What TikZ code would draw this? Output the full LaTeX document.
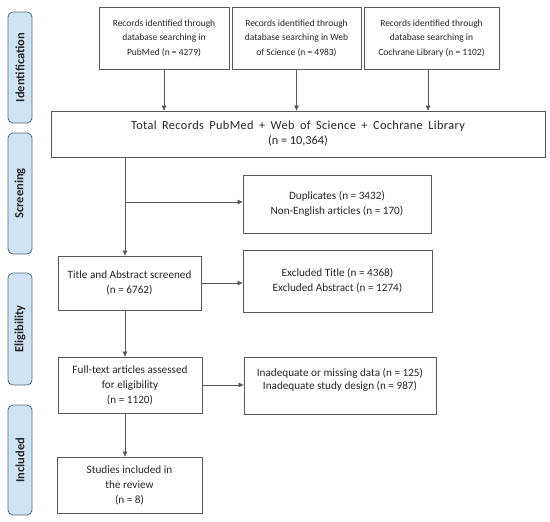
\documentclass[tikz,border=0pt]{standalone}
\usepackage{fontspec}
\setmainfont{Carlito}
\newfontfamily\widefont[LetterSpace=3]{Carlito}
\usetikzlibrary{arrows.meta}
\definecolor{boxline}{HTML}{595959}
\definecolor{txt}{HTML}{262626}
\definecolor{sidefill}{HTML}{CFE5F6}
\definecolor{sideline}{HTML}{4F6F80}
\newcommand{\gp}{\hspace{5.5pt}}
\begin{document}
\begin{tikzpicture}[x=1pt,y=-1pt,
  box/.style={draw=boxline, line width=0.8pt, fill=white, align=center, text=txt,
    font=\fontsize{11.2}{15}\selectfont, inner sep=0pt},
  topbox/.style={box, font=\fontsize{9.5}{14.5}\selectfont},
  bigbox/.style={box, font=\fontsize{12.3}{15}\selectfont},
  side/.style={draw=sideline, line width=0.8pt, fill=sidefill, rounded corners=5pt, inner sep=0pt},
  sidetext/.style={rotate=90, text=txt, font=\fontsize{12.5}{14}\selectfont\bfseries},
  arr/.style={draw=boxline, line width=0.7pt, -{Triangle[length=5pt,width=4.5pt]}}]
\useasboundingbox (0,0) rectangle (550,522);
\fill[white] (0,0) rectangle (550,522);
% sidebars
\node[side, minimum width=24, minimum height=111] (sid) at (20,67.5) {};
\node[sidetext] (tid) at (sid.center) {Identification};
\node[side, minimum width=24, minimum height=121] (ssc) at (20,193.5) {};
\node[sidetext] (tsc) at (ssc.center) {Screening};
\node[side, minimum width=24, minimum height=112] (sel) at (20,329) {};
\node[sidetext] (tel) at (sel.center) {Eligibility};
\node[side, minimum width=24, minimum height=110] (sin) at (20,460) {};
\node[sidetext] (tin) at (sin.center) {Included};
% boxes
\node[topbox, minimum width=130, minimum height=62] (pub) at (164,38)
  {Records identified through\\database searching in\\PubMed (n = 4279)};
\node[topbox, minimum width=129, minimum height=62] (wos) at (296.5,38)
  {Records identified through\\database searching in Web\\of Science (n = 4983)};
\node[topbox, minimum width=135, minimum height=62] (coc) at (431.5,38)
  {Records identified through\\database searching in\\Cochrane Library (n = 1102)};
\node[bigbox, minimum width=494, minimum height=46] (tot) at (298,134)
  {{\widefont Total\gp Records\gp PubMed\gp +\gp Web\gp of\gp Science\gp +\gp Cochrane\gp Library}\\(n = 10,364)};
\node[box, minimum width=188, minimum height=58] (dup) at (337,204)
  {Duplicates (n = 3432)\\Non-English articles (n = 170)};
\node[box, minimum width=143, minimum height=54] (tit) at (129.5,283)
  {Title and Abstract screened\\(n = 6762)};
\node[box, minimum width=189, minimum height=62] (exc) at (337.5,281)
  {Excluded Title (n = 4368)\\Excluded Abstract (n = 1274)};
\node[box, minimum width=144, minimum height=56] (ful) at (130,385)
  {Full-text articles assessed\\for eligibility\\(n = 1120)};
\node[box, font=\fontsize{11.2}{13.5}\selectfont, minimum width=192, minimum height=57] (ina) at (340,385.5)
  {Inadequate or missing data (n = 125)\\Inadequate study design (n = 987)\\\mbox{}};
\node[box, minimum width=145, minimum height=56] (stu) at (129.5,485)
  {Studies included in\\the review\\(n = 8)};
% connectors
\coordinate (tx) at (125,0);
\coordinate (br) at (125,202);
\coordinate (cx) at (428,0);
\draw[arr] (pub.south) -- (pub.south |- tot.north);
\draw[arr] (wos.south) -- (wos.south |- tot.north);
\draw[arr] (coc.south -| cx) -- (tot.north -| cx);
\draw[arr] (tot.south -| tx) -- (tit.north -| tx);
\draw[arr] (br) -- (br -| dup.west);
\draw[arr] (tit.east) -- (tit.east -| exc.west);
\draw[arr] (tit.south -| tx) -- (ful.north -| tx);
\draw[arr] (ful.east) -- (ful.east -| ina.west);
\draw[arr] (ful.south -| tx) -- (stu.north -| tx);
\end{tikzpicture}
\end{document}
